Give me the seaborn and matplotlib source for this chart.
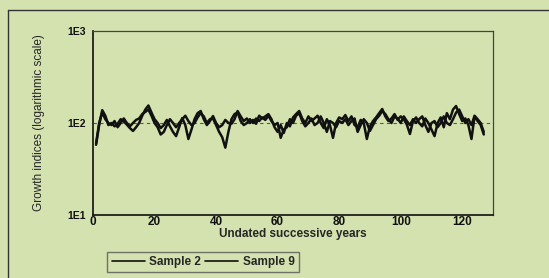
import numpy as np
import pandas as pd
import matplotlib
matplotlib.use("Agg")
import matplotlib.pyplot as plt
import seaborn as sns
from matplotlib.ticker import FixedLocator, MultipleLocator, NullFormatter, LogLocator
from matplotlib.lines import Line2D

series_names = ["Sample 2", "Sample 9"]
years = list(range(1, 128))
sample2 = [58, 95, 138, 120, 95, 100, 92, 98, 110, 104,
           96, 88, 82, 90, 100, 120, 140, 155, 130, 110,
           100, 88, 95, 108, 92, 80, 72, 90, 113, 95,
           67, 85, 110, 128, 135, 110, 95, 105, 119, 100,
           90, 95, 108, 100, 98, 110, 135, 118, 105, 112,
           100, 108, 98, 120, 112, 118, 125, 110, 90, 80,
           95, 78, 100, 92, 115, 125, 135, 112, 100, 118,
           105, 112, 120, 100, 88, 110, 95, 69, 100, 115,
           110, 122, 105, 118, 95, 90, 108, 100, 67, 92,
           105, 115, 128, 142, 118, 105, 112, 125, 108, 118,
           110, 96, 76, 105, 115, 100, 92, 112, 100, 85,
           72, 100, 115, 90, 128, 110, 140, 153, 125, 105,
           112, 95, 67, 118, 105, 95, 75]
sample9 = [60, 100, 130, 110, 100, 95, 105, 90, 100, 112,
           100, 92, 100, 108, 112, 125, 132, 140, 120, 100,
           90, 75, 80, 95, 110, 100, 90, 100, 110, 120,
           105, 95, 100, 115, 128, 118, 100, 110, 112, 95,
           80, 70, 54, 80, 110, 125, 130, 105, 95, 100,
           110, 100, 112, 105, 115, 108, 120, 105, 95, 100,
           69, 85, 90, 110, 100, 120, 128, 105, 92, 100,
           112, 95, 100, 118, 100, 80, 105, 100, 90, 105,
           100, 110, 95, 105, 112, 80, 95, 110, 100, 82,
           95, 110, 120, 135, 125, 110, 100, 118, 112, 100,
           118, 105, 95, 110, 100, 110, 118, 95, 80, 100,
           105, 90, 100, 118, 100, 95, 110, 130, 140, 118,
           100, 110, 95, 120, 110, 100, 80]
ytick_vals = [10, 100, 1000]
ytick_labels = ["1E1", "1E2", "1E3"]
xtick_vals = [0, 20, 40, 60, 80, 100, 120]

df = pd.DataFrame({
    "year": years * 2,
    "value": sample2 + sample9,
    "series": [series_names[0]] * len(years) + [series_names[1]] * len(years),
})

bg = "#d4e2b0"
sns.set_style("white")
plt.rcParams["font.family"] = ["Liberation Sans", "DejaVu Sans"]

fig = plt.figure(figsize=(5.49, 2.78), dpi=100, facecolor=bg)
ax = fig.add_axes([93 / 549, 1 - 215 / 278, 400 / 549, 184 / 278])
ax.set_facecolor(bg)

sns.lineplot(data=df, x="year", y="value", hue="series",
             palette=["#111111", "#111111"], linewidth=1.8, ax=ax, legend=False)
ax.axhline(100, color="#555555", lw=0.8, ls=(0, (3, 3)), zorder=0)

ax.set_yscale("log")
ax.set_ylim(10, 1000)
ax.set_xlim(0, 130)
ax.yaxis.set_major_locator(FixedLocator(ytick_vals))
ax.set_yticklabels(ytick_labels, fontsize=7.5, fontweight="bold")
ax.yaxis.set_minor_locator(LogLocator(base=10, subs=np.arange(2, 10)))
ax.yaxis.set_minor_formatter(NullFormatter())
ax.set_xticks(xtick_vals)
ax.set_xticklabels([str(v) for v in xtick_vals], fontsize=8.5, fontweight="bold")
ax.xaxis.set_minor_locator(MultipleLocator(1))
ax.tick_params(axis="y", which="major", direction="out", length=4, width=1, pad=1, colors="#111111")
ax.tick_params(axis="y", which="minor", direction="inout", length=2, width=0.8, colors="#222222")
ax.tick_params(axis="x", which="major", direction="in", length=3, width=0.8, pad=1, colors="#111111")
ax.tick_params(axis="x", which="minor", direction="in", length=2.5, width=0.6, colors="#222222")

for side in ["left", "bottom"]:
    ax.spines[side].set_color("#111111")
    ax.spines[side].set_linewidth(1.2)
for side in ["top", "right"]:
    ax.spines[side].set_color("#444444")
    ax.spines[side].set_linewidth(0.9)

ax.set_xlabel("Undated successive years", fontsize=8.5, fontweight="bold", labelpad=0)
ax.set_ylabel("Growth indices (logarithmic scale)", fontsize=8.5, labelpad=16,
              family=["Liberation Sans Narrow", "Liberation Sans", "DejaVu Sans"])

# outer frame
fig.add_artist(Line2D([8 / 549, 1.0], [1 - 10 / 278, 1 - 10 / 278], color="#333333", lw=1.0))
fig.add_artist(Line2D([8 / 549, 8 / 549], [0, 1 - 10 / 278], color="#333333", lw=1.0))

handles = [Line2D([], [], color="#111111", lw=1.2) for _ in series_names]
leg = fig.legend(handles, series_names, loc="center", bbox_to_anchor=(203 / 549, 1 - 262 / 278),
                 ncol=2, frameon=True, fancybox=False, handlelength=2.8, handletextpad=0.4,
                 columnspacing=0.3, borderpad=0.35,
                 prop={"size": 8.5, "weight": "bold"})
leg.get_frame().set_facecolor(bg)
leg.get_frame().set_edgecolor("#555555")
leg.get_frame().set_linewidth(1.0)

fig.savefig("out.png", dpi=100, facecolor=bg)
